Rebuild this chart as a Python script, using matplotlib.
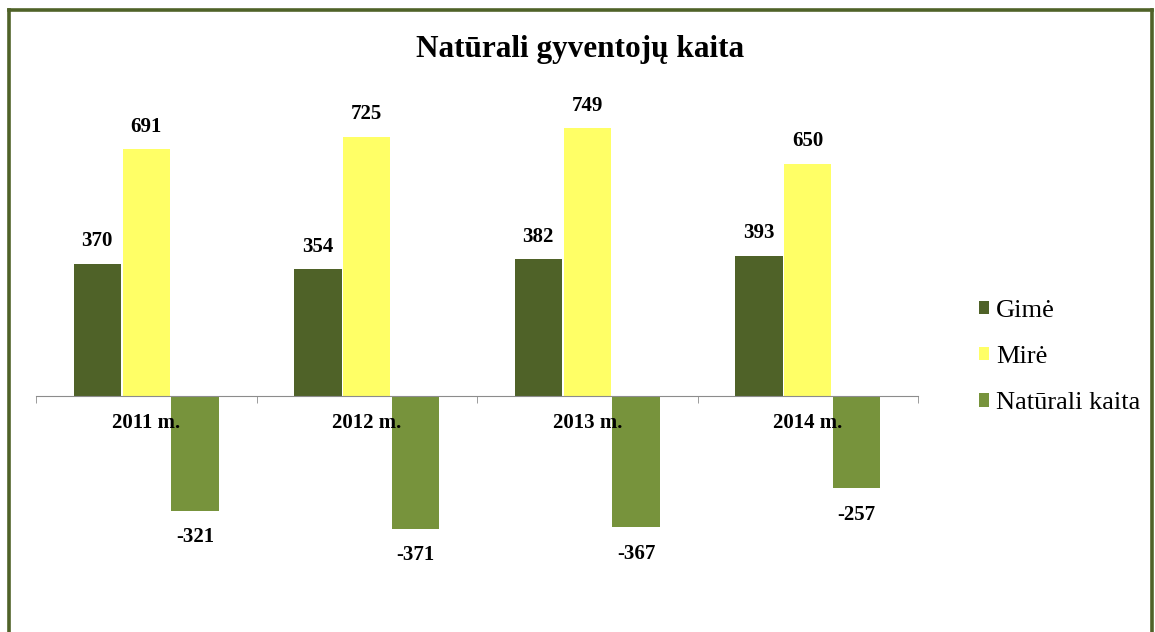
import numpy as np
import matplotlib.pyplot as plt
from matplotlib.patches import Patch
from matplotlib.lines import Line2D

years = ["2011 m.", "2012 m.", "2013 m.", "2014 m."]
gime = [370, 354, 382, 393]
mire = [691, 725, 749, 650]
kaita = [-321, -371, -367, -257]
series_names = ["Gimė", "Mirė", "Natūrali kaita"]
colors = ["#4F6228", "#FFFF66", "#77933C"]

plt.rcParams['font.family'] = ['Liberation Serif', 'DejaVu Serif']

W, H = 1155, 632
fig = plt.figure(figsize=(W / 100, H / 100), dpi=100)

# plot area: x 36..918 px, baseline at y=396 px
ax_top, ax_bot = 90, 620
ax = fig.add_axes([36 / W, 1 - ax_bot / H, 882 / W, (ax_bot - ax_top) / H])
scale = 247 / 691  # px per unit
ax.set_ylim(-(ax_bot - 396) / scale, (396 - ax_top) / scale)
ax.set_xlim(-0.5, len(years) - 0.5)
ax.set_axisbelow(False)

x = np.arange(len(years))
width = 0.215
offsets = [-0.222, 0.0, 0.222]
for vals, off, c in zip([gime, mire, kaita], offsets, colors):
    bars = ax.bar(x + off, vals, width, color=c, zorder=2)
    for b, v in zip(bars, vals):
        cx = b.get_x() + b.get_width() / 2
        if v >= 0:
            ax.annotate(str(v), (cx, v), xytext=(0, 9), textcoords='offset points',
                        ha='center', va='bottom', fontsize=15, fontweight='bold')
        else:
            ax.annotate(str(v), (cx, v), xytext=(0, -12), textcoords='offset points',
                        ha='center', va='top', fontsize=15, fontweight='bold')

for s in ['top', 'right', 'left']:
    ax.spines[s].set_visible(False)
ax.spines['bottom'].set_position(('data', 0))
ax.spines['bottom'].set_color('#8C8C8C')
ax.set_yticks([])
ax.set_xticks(x)
ax.set_xticklabels(years, fontsize=15, fontweight='bold')
ax.tick_params(axis='x', which='major', length=0, pad=12)
ax.set_xticks(np.arange(-0.5, len(years)), minor=True)
ax.tick_params(axis='x', which='minor', length=5, color='#8C8C8C', direction='out')

fig.text(580 / W, 1 - 50 / H, "Natūrali gyventojų kaita", ha='center', va='center',
         fontsize=22.5, fontweight='bold')

handles = [Patch(facecolor=c, edgecolor='none') for c in colors]
fig.legend(handles, series_names, loc='center left', bbox_to_anchor=(955 / W, 1 - 357 / H),
           frameon=False, fontsize=19, handlelength=0.4, handleheight=0.4,
           handletextpad=0.25, labelspacing=0.92)

# outer frame (bottom edge cut off)
fc = "#4F6228"
fig.add_artist(Line2D([8.5 / W, 8.5 / W], [0, 1 - 9.5 / H], color=fc, lw=2.6))
fig.add_artist(Line2D([8.5 / W, 1151.5 / W], [1 - 9.5 / H, 1 - 9.5 / H], color=fc, lw=2.6))
fig.add_artist(Line2D([1151.5 / W, 1151.5 / W], [0, 1 - 9.5 / H], color=fc, lw=2.6))

fig.savefig("out.png", dpi=100)
